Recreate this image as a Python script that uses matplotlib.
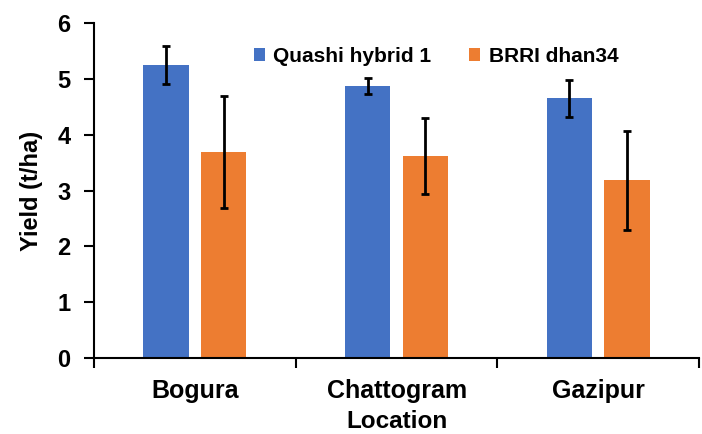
import numpy as np
import matplotlib.pyplot as plt

plt.rcParams['font.family'] = ['Liberation Sans', 'DejaVu Sans']
plt.rcParams['font.weight'] = 'bold'

# данные
locations = ['Bogura', 'Chattogram', 'Gazipur']
hybrid = [5.25, 4.87, 4.65]
hybrid_err = [0.34, 0.14, 0.33]
brri = [3.69, 3.61, 3.18]
brri_err = [1.0, 0.68, 0.88]

x = np.arange(len(locations))
w = 0.225
off = 0.143

fig = plt.figure(figsize=(7.02, 4.34), dpi=100)
ax = fig.add_axes([0.134, 0.175, 0.862, 0.772])

err_kw = dict(ecolor='black', elinewidth=2, capsize=3, capthick=2)
ax.bar(x - off, hybrid, w, yerr=hybrid_err, color='#4472C4', label='Quashi hybrid 1',
       error_kw=err_kw)
ax.bar(x + off, brri, w, yerr=brri_err, color='#ED7D31', label='BRRI dhan34',
       error_kw=err_kw)

ax.set_xlim(-0.5, 2.5)
ax.set_ylim(0, 6)
ax.set_yticks(range(7))
ax.set_xticks(x)
ax.set_xticklabels(locations, fontsize=18, fontweight='bold')
ax.set_xticks([-0.5, 0.5, 1.5, 2.5], minor=True)
ax.tick_params(axis='x', which='major', length=0, pad=15)
ax.tick_params(axis='x', which='minor', length=7, width=1.5)
ax.tick_params(axis='y', length=7, width=1.5, pad=10, labelsize=17)
for lbl in ax.get_yticklabels():
    lbl.set_fontweight('bold')

for s in ['top', 'right']:
    ax.spines[s].set_visible(False)
ax.spines['left'].set_linewidth(1.5)
ax.spines['bottom'].set_linewidth(1.5)

ax.set_xlabel('Location', fontsize=17.5, fontweight='bold', labelpad=5)
ax.set_ylabel('Yield (t/ha)', fontsize=17, fontweight='bold', labelpad=10)

ax.legend(ncol=2, frameon=False, loc='center', bbox_to_anchor=(0.565, 0.9),
          prop={'size': 15, 'weight': 'bold'}, handlelength=0.55, handleheight=0.55,
          handletextpad=0.4, columnspacing=1.8)

fig.savefig('out.png', dpi=100)
